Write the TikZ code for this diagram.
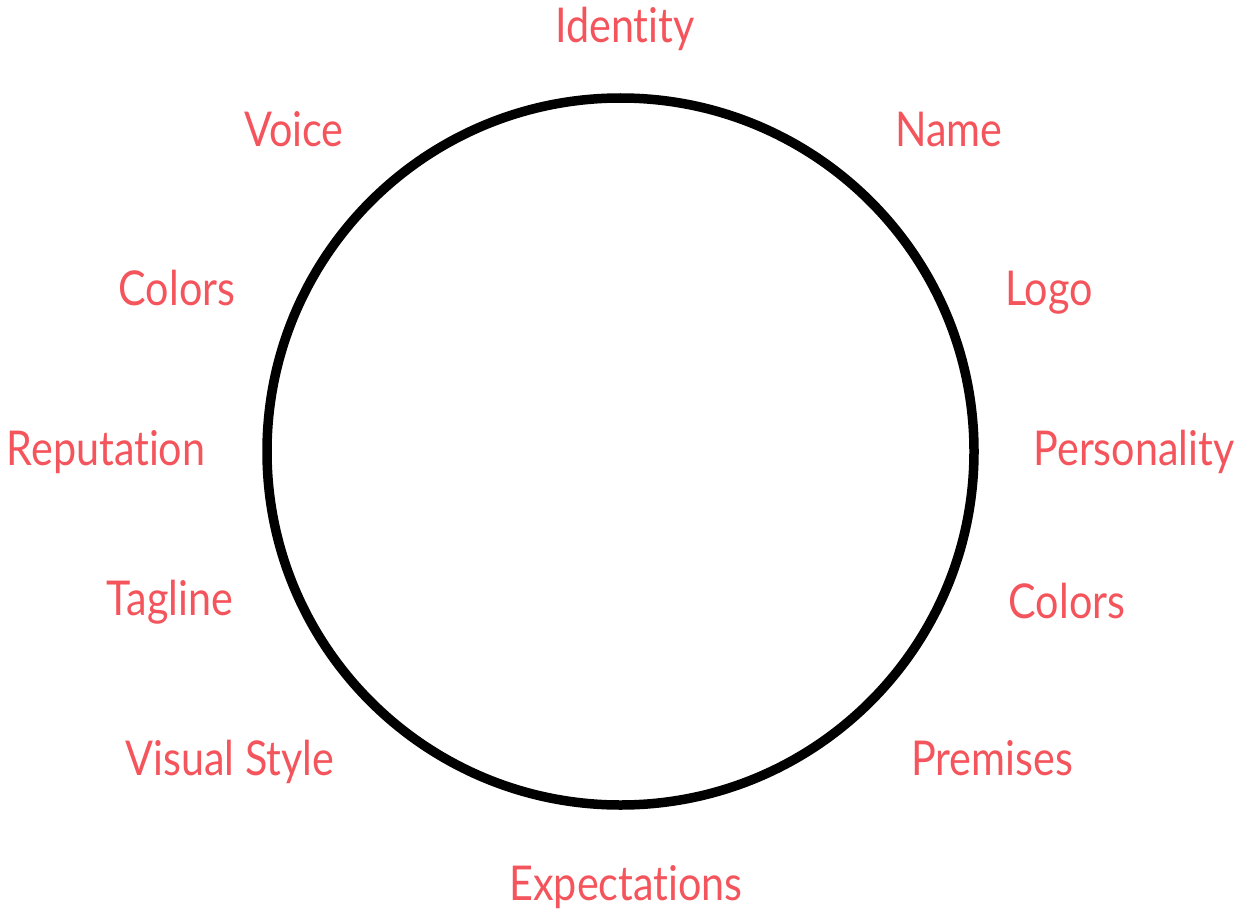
\documentclass[tikz,border=0pt]{standalone}
\usepackage{fontspec}
\setmainfont{Lato}[FakeStretch=0.86,Ligatures=NoCommon]
\definecolor{lbl}{HTML}{F4555C}
\begin{document}
\begin{tikzpicture}[x=1pt,y=-1pt,
  lab/.style={anchor=base,text=lbl,font=\fontsize{48}{54}\selectfont,inner sep=0pt}]
\useasboundingbox (0,0) rectangle (1238,912);
\node[draw=black,line width=9.5pt,circle,minimum size=707pt,inner sep=0pt] (c) at (620.5,451.5) {};
\node[lab] (identity) at (625,43) {Identity};
\node[lab] (voice) at (294,147) {Voice};
\node[lab] (name) at (949,147) {Name};
\node[lab] (colorsl) at (177,305) {Colors};
\node[lab] (logo) at (1049,305) {Logo};
\node[lab] (reputation) at (106,465) {Reputation};
\node[lab] (personality) at (1134,465) {Personality};
\node[lab] (tagline) at (170,615) {Tagline};
\node[lab] (colorsr) at (1067,618) {Colors};
\node[lab] (visual) at (230,775) {Visual Style};
\node[lab] (premises) at (992,775) {Premises};
\node[lab] (expect) at (626,900) {Expectations};
\end{tikzpicture}
\end{document}
